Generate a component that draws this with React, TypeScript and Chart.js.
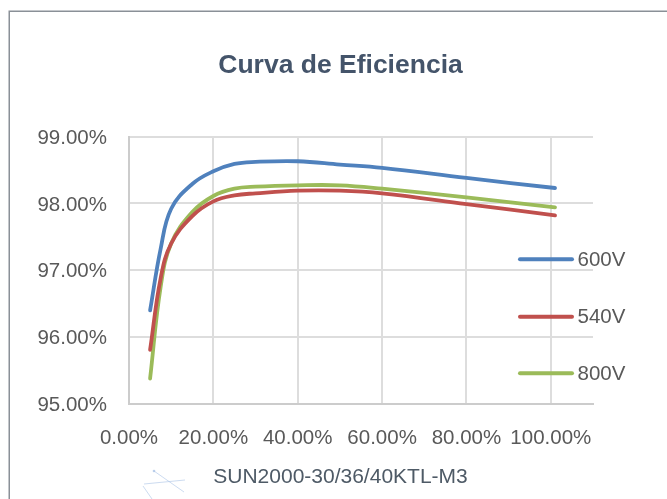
import React, { useEffect, useRef } from "react";
import { Chart, registerables } from "chart.js";

Chart.register(...registerables);

// Load levels (% of rated power)
const loadLevels = [5, 7.5, 10, 15, 20, 25, 30, 40, 50, 60, 80, 101];
// Efficiency (%) per input voltage
const eff600V = [96.4, 97.32, 97.92, 98.29, 98.48, 98.59, 98.62, 98.63, 98.58, 98.53, 98.38, 98.23];
const eff540V = [95.81, 96.88, 97.4, 97.81, 98.03, 98.12, 98.15, 98.19, 98.19, 98.15, 97.99, 97.82];
const eff800V = [95.38, 96.75, 97.4, 97.87, 98.11, 98.22, 98.25, 98.27, 98.27, 98.22, 98.09, 97.94];

const seriesLabels = ["600V", "540V", "800V"];
const seriesColors = ["#4f81bd", "#c0504d", "#9bbb59"];
const chartTitle = "Curva de Eficiencia";
const xAxisTitle = "SUN2000-30/36/40KTL-M3";

const FONT = "'Liberation Sans', Arial, sans-serif";

export default function App() {
  const ref = useRef<HTMLCanvasElement | null>(null);

  useEffect(() => {
    const canvas = ref.current;
    if (!canvas) return;
    const seriesValues = [eff600V, eff540V, eff800V];

    const decorPlugin = {
      id: "decor",
      beforeDraw(chart: any) {
        const ctx = chart.ctx;
        ctx.save();
        ctx.fillStyle = "#ffffff";
        ctx.fillRect(0, 0, chart.width, chart.height);
        ctx.strokeStyle = "#8a9097";
        ctx.lineWidth = 1.5;
        ctx.beginPath();
        ctx.moveTo(9.25, chart.height + 2);
        ctx.lineTo(9.25, 11.25);
        ctx.lineTo(chart.width + 2, 11.25);
        ctx.stroke();
        // faint artefact lines bottom-left
        ctx.strokeStyle = "rgba(170,195,230,0.6)";
        ctx.lineWidth = 1;
        ctx.beginPath();
        ctx.moveTo(154, 471);
        ctx.lineTo(184, 492);
        ctx.moveTo(144, 484);
        ctx.lineTo(185, 480);
        ctx.moveTo(143, 486);
        ctx.lineTo(152, 499);
        ctx.stroke();
        ctx.fillStyle = "rgba(170,195,230,0.8)";
        ctx.beginPath();
        ctx.arc(154, 471, 1.3, 0, Math.PI * 2);
        ctx.fill();
        ctx.restore();
      },
      afterDraw(chart: any) {
        const ctx = chart.ctx;
        ctx.save();
        ctx.textAlign = "center";
        ctx.textBaseline = "alphabetic";
        ctx.fillStyle = "#44546a";
        ctx.font = `bold 26.5px ${FONT}`;
        ctx.fillText(chartTitle, 340.5, 73.3);
        ctx.fillStyle = "#4e5a66";
        ctx.font = `21px ${FONT}`;
        ctx.fillText(xAxisTitle, 340.5, 483.3);

        // legend
        const ys = [259.3, 316.7, 373.3];
        chart.data.datasets.forEach((ds: any, i: number) => {
          ctx.strokeStyle = ds.borderColor;
          ctx.lineWidth = 4;
          ctx.lineCap = "round";
          ctx.beginPath();
          ctx.moveTo(520, ys[i]);
          ctx.lineTo(572, ys[i]);
          ctx.stroke();
          ctx.fillStyle = "#595959";
          ctx.font = `20.5px ${FONT}`;
          ctx.textAlign = "left";
          ctx.textBaseline = "middle";
          ctx.fillText(ds.label, 577.5, ys[i] + 1);
        });
        ctx.restore();
      },
    };

    const chart = new Chart(canvas, {
      type: "line",
      data: {
        datasets: seriesValues.map((vals, i) => ({
          label: seriesLabels[i],
          data: loadLevels.map((x, j) => ({ x, y: vals[j] })),
          borderColor: seriesColors[i],
          backgroundColor: seriesColors[i],
          borderWidth: 3.8,
          borderCapStyle: "round" as const,
          borderJoinStyle: "round" as const,
          pointRadius: 0,
          tension: 0.4,
          fill: false,
        })),
      },
      options: {
        responsive: false,
        animation: false,
        devicePixelRatio: 1,
        layout: { padding: { top: 136.5, right: 74, left: 0, bottom: 0 } },
        plugins: {
          legend: { display: false },
          title: { display: false },
          tooltip: { enabled: false },
        },
        scales: {
          x: {
            type: "linear",
            min: 0,
            max: 110,
            afterBuildTicks: (scale: any) => {
              scale.ticks = [0, 20, 40, 60, 80, 100].map((v) => ({ value: v }));
            },
            afterFit: (scale: any) => {
              scale.height = 95;
            },
            ticks: {
              color: "#595959",
              font: { family: FONT, size: 20.5 },
              padding: 22,
              maxRotation: 0,
              autoSkip: false,
              callback: (v: any) => Number(v).toFixed(2) + "%",
            },
            grid: { color: "#dddddd", lineWidth: 2, drawTicks: false },
            border: { color: "#cccccc", width: 2 },
          },
          y: {
            type: "linear",
            min: 95,
            max: 99,
            afterBuildTicks: (scale: any) => {
              scale.ticks = [95, 96, 97, 98, 99].map((v) => ({ value: v }));
            },
            afterFit: (scale: any) => {
              scale.width = 129;
            },
            ticks: {
              color: "#595959",
              font: { family: FONT, size: 20.5 },
              padding: 22,
              labelOffset: 1.5,
              callback: (v: any) => Number(v).toFixed(2) + "%",
            },
            grid: { color: "#dddddd", lineWidth: 2, drawTicks: false },
            border: { color: "#cccccc", width: 2 },
          },
        },
      },
      plugins: [decorPlugin],
    } as any);

    return () => chart.destroy();
  }, []);

  return (
    <div style={{ position: "absolute", left: 0, top: 0, width: 667, height: 499 }}>
      <canvas ref={ref} width={667} height={499} style={{ display: "block", width: 667, height: 499 }} />
    </div>
  );
}
